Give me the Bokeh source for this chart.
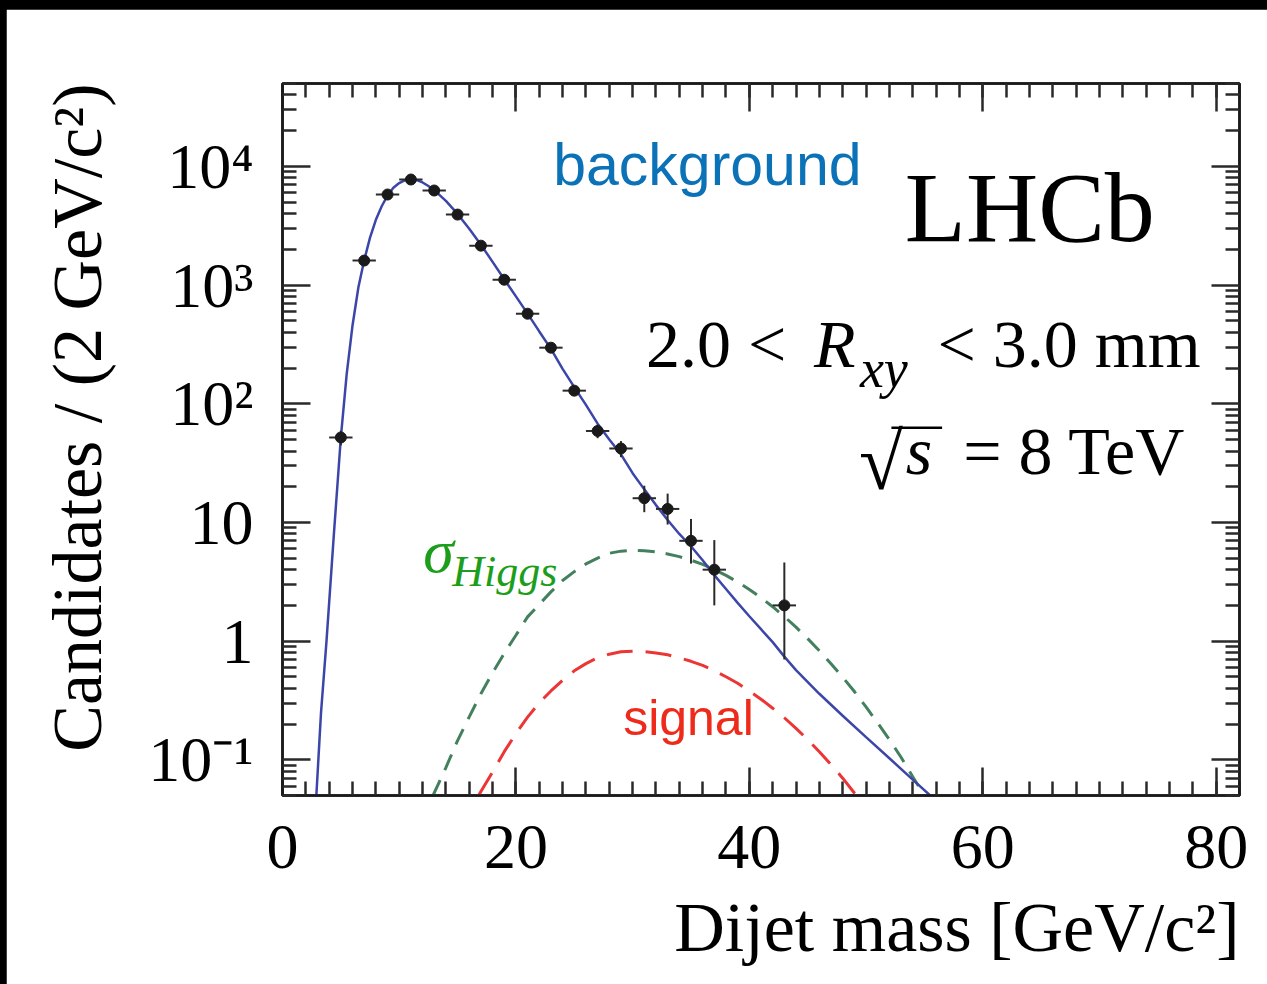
import math
from bokeh.plotting import figure
from bokeh.models import (FixedTicker, LinearAxis, LogAxis, Label, ColumnDataSource,
                          CustomJSTickFormatter, Title)
from bokeh.embed import file_html
from bokeh.resources import INLINE

# ---------------- data ----------------
mass_bins = [5, 7, 9, 11, 13, 15, 17, 19, 21, 23, 25, 27, 29, 31, 33, 35, 37, 43]
candidates = [52, 1610, 5800, 7760, 6270, 3930, 2150, 1110, 574, 297, 129, 59, 42, 16, 13, 7, 4, 2]
err_down = [7.2, 40, 76, 88, 79, 63, 46, 33, 24, 17, 11, 7.7, 6.5, 3.8, 3.4, 2.5, 2.0, 1.3]
err_up = [7.2, 40, 76, 88, 79, 63, 46, 33, 24, 17, 11, 7.7, 6.5, 4.4, 4.5, 3.7, 3.1, 2.6]
bin_half_width = 1.0

bkg_mass = [2.9, 3.3, 3.77, 4.4, 5.0, 5.5, 6.0, 6.5, 7.0, 7.5, 8.0, 8.5, 9.0, 9.5, 10.0,
            10.5, 11.0, 11.5, 12.0, 12.5, 13.0, 14.0, 15.0, 16.0, 17.0, 18.0, 19.0, 20.0,
            21.0, 22.0, 23.0, 24.0, 25.0, 26.0, 27.0, 28.0, 29.0, 30.0, 31.0, 32.0, 33.0,
            34.0, 35.0, 36.0, 37.0, 38.0, 39.0, 40.0, 41.0, 42.0, 43.0, 44.0, 46.0, 48.0,
            50.0, 52.0, 54.0, 55.5]
bkg_fit = [0.05, 0.25, 1.0, 7.9, 52, 178, 457, 955, 1620, 2510, 3550, 4620, 5690, 6610, 7240,
           7670, 7760, 7670, 7330, 6840, 6310, 5130, 3980, 2990, 2190, 1570, 1120, 804,
           575, 407, 290, 197, 138, 98, 68, 50, 37.5, 26, 19.0, 14.0, 10.5,
           8.0, 6.3, 4.8, 3.6, 2.75, 2.1, 1.62, 1.26, 0.98, 0.74, 0.57, 0.36, 0.235,
           0.155, 0.103, 0.068, 0.05]

higgs_mass = [12.9, 14, 15, 16, 17, 18, 19, 20, 21, 22, 23, 24, 25, 26, 27, 28, 29, 30, 31,
              32, 33, 34, 35, 36, 37, 38, 39, 40, 41, 42, 43, 44, 45, 46, 47, 48, 49, 50,
              51, 52, 53, 54, 55]
higgs_xsec = [0.05, 0.086, 0.145, 0.23, 0.36, 0.54, 0.79, 1.12, 1.6, 2.04, 2.6, 3.24, 3.85,
              4.47, 5.0, 5.5, 5.73, 5.82, 5.78, 5.65, 5.43, 5.15, 4.81, 4.43, 4.01, 3.58,
              3.15, 2.72, 2.32, 1.95, 1.61, 1.31, 1.05, 0.83, 0.645, 0.497, 0.376, 0.279,
              0.204, 0.148, 0.105, 0.072, 0.05]

signal_mass = [16.8, 17, 18, 19, 20, 21, 22, 23, 24, 25, 26, 27, 28, 29, 30, 31, 32, 33, 34,
               35, 36, 37, 38, 39, 40, 41, 42, 43, 44, 45, 46, 47, 48, 49, 49.2]
signal_yield = [0.05, 0.054, 0.079, 0.117, 0.166, 0.229, 0.302, 0.38, 0.468, 0.562, 0.646,
                0.724, 0.776, 0.813, 0.822, 0.817, 0.794, 0.767, 0.724, 0.676, 0.624, 0.562,
                0.501, 0.442, 0.380, 0.324, 0.272, 0.226, 0.184, 0.148, 0.117, 0.091, 0.070,
                0.0525, 0.05]

x_range = (0, 82)
y_range = (0.05, 50000)
x_major_ticks = [0, 20, 40, 60, 80]
x_minor_ticks = list(range(0, 83, 2))
y_major_ticks = [0.1, 1, 10, 100, 1000, 10000]
y_tick_labels = ["10\u207b\u00b9", "1", "10", "10\u00b2", "10\u00b3", "10\u2074"]
y_minor_ticks = [m * 10.0 ** e for e in range(-2, 5) for m in range(2, 10)]

x_title = "Dijet mass [GeV/c\u00b2]"
y_title = "Candidates / (2 GeV/c\u00b2)"

# ---------------- layout (page pixels) ----------------
PAGE_W, PAGE_H = 1267, 984
TOP_BAND, LEFT_BAND = 9, 6
FRAME_L, FRAME_R, FRAME_T, FRAME_B = 281, 1239, 83, 795
BASELINE_FIX = 0.36  # Label draws its baseline this fraction of the size lower

SERIF = "Liberation Serif"
SANS = "Liberation Sans"
INK = "#1a1a1a"


def dx(px):
    return x_range[0] + (px - FRAME_L) / (FRAME_R - FRAME_L) * (x_range[1] - x_range[0])


def dy(py):
    lo, hi = math.log10(y_range[0]), math.log10(y_range[1])
    return 10 ** (lo + (FRAME_B - py) / (FRAME_B - FRAME_T) * (hi - lo))


p = figure(width=PAGE_W - LEFT_BAND, height=PAGE_H - TOP_BAND,
           x_range=x_range, y_range=y_range, y_axis_type="log",
           output_backend="svg", toolbar_location=None,
           min_border_left=FRAME_L - LEFT_BAND, min_border_right=PAGE_W - FRAME_R,
           min_border_top=FRAME_T - TOP_BAND, min_border_bottom=PAGE_H - FRAME_B)
p.margin = (TOP_BAND, 0, 0, LEFT_BAND)
p.background_fill_color = "white"
p.border_fill_color = "white"
p.outline_line_color = INK
p.outline_line_width = 2.5
p.grid.visible = False


def style_axis(ax):
    ax.major_tick_in = 28
    ax.major_tick_out = 0
    ax.minor_tick_in = 14
    ax.minor_tick_out = 0
    ax.major_tick_line_width = 2.5
    ax.minor_tick_line_width = 2.5
    ax.major_tick_line_color = "#2a2a2a"
    ax.minor_tick_line_color = "#2a2a2a"
    ax.axis_line_width = 2.5
    ax.axis_line_color = INK
    ax.major_label_text_font = SERIF
    ax.major_label_text_font_size = "64px"
    ax.major_label_text_color = "black"


xa = p.xaxis[0]
xa.ticker = FixedTicker(ticks=x_major_ticks, minor_ticks=x_minor_ticks)
style_axis(xa)
xa.major_label_standoff = 30

ya = p.yaxis[0]
ya.ticker = FixedTicker(ticks=y_major_ticks, minor_ticks=y_minor_ticks)
style_axis(ya)
ya.major_label_overrides = dict(zip(y_major_ticks, y_tick_labels))
ya.major_label_standoff = 29

blank = CustomJSTickFormatter(code="return ''")
top_axis = LinearAxis(ticker=FixedTicker(ticks=x_major_ticks, minor_ticks=x_minor_ticks),
                      formatter=blank)
style_axis(top_axis)
top_axis.major_label_standoff = 0
p.add_layout(top_axis, "above")
right_axis = LogAxis(ticker=FixedTicker(ticks=y_major_ticks, minor_ticks=y_minor_ticks),
                     formatter=blank)
style_axis(right_axis)
right_axis.major_label_standoff = 0
p.add_layout(right_axis, "right")

# axis titles (ROOT style: aligned to the upper / right end)
p.add_layout(Title(text=x_title, align="right", text_font=SERIF, text_font_size="70px",
                   text_font_style="normal", text_color="black", standoff=33, offset=0),
             "below")
p.add_layout(Title(text=y_title, align="right", text_font=SERIF, text_font_size="70px",
                   text_font_style="normal", text_color="black", standoff=60, offset=0),
             "left")

# ---------------- curves ----------------
p.line(higgs_mass, higgs_xsec, line_color="#43805e", line_width=3, line_dash="17 11")
p.line(signal_mass, signal_yield, line_color="#ec3535", line_width=3, line_dash="26 13")
p.line(bkg_mass, bkg_fit, line_color="#3c46a8", line_width=2.5)

# ---------------- data points ----------------
src = ColumnDataSource(dict(
    x=mass_bins, y=candidates,
    lo=[c - d for c, d in zip(candidates, err_down)],
    hi=[c + u for c, u in zip(candidates, err_up)],
    xl=[m - bin_half_width for m in mass_bins],
    xr=[m + bin_half_width for m in mass_bins],
))
p.segment(x0="x", y0="lo", x1="x", y1="hi", source=src, line_color="#2a2a2a", line_width=2)
p.segment(x0="xl", y0="y", x1="xr", y1="y", source=src, line_color="#2a2a2a", line_width=2)
p.scatter("x", "y", source=src, size=11, color=INK)


# ---------------- texts ----------------
def label(text, px, py, size, font=SERIF, color="black", style="normal", align="left"):
    p.add_layout(Label(x=dx(px), y=dy(py - BASELINE_FIX * size), text=text, text_font=font,
                       text_font_size=f"{size}px", text_color=color,
                       text_font_style=style, text_align=align,
                       text_baseline="alphabetic"))


label("background", 552, 186, 59, font=SANS, color="#0b72b8")
label("LHCb", 904, 243, 100)
label("2.0 <", 645, 368, 68)
label("R", 813, 368, 68, style="italic")
label("xy", 859, 388, 54, style="italic")
label("< 3.0 mm", 1200, 368, 68, align="right")
label("\u221a", 858, 490, 80)
label("\u2014", 891, 440, 50)
label("s", 905, 475, 68, style="italic")
label("= 8 TeV", 1185, 475, 68, align="right")
label("\u03c3", 422, 573, 62, color="#1c9e1c", style="italic")
label("Higgs", 451, 587, 44, color="#1c9e1c", style="italic")
label("signal", 622, 735, 50, font=SANS, color="#ee2a1a")

html = file_html(p, INLINE)
html = html.replace("</head>",
                    "<style>html,body{margin:0;padding:0;background:#000;}</style></head>", 1)
open("out.html", "w").write(html)
